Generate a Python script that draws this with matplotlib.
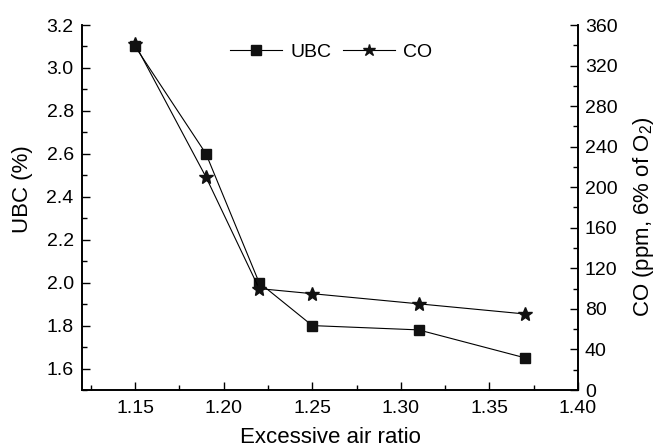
import matplotlib
matplotlib.use("Agg")
import matplotlib.pyplot as plt
from matplotlib.ticker import MultipleLocator, FormatStrFormatter

plt.rcParams['font.family'] = ['Liberation Sans', 'DejaVu Sans']
plt.rcParams['font.size'] = 14
plt.rcParams['mathtext.fontset'] = 'custom'
plt.rcParams['mathtext.rm'] = 'Liberation Sans'

# data
air_ratio = [1.15, 1.19, 1.22, 1.25, 1.31, 1.37]
ubc = [3.10, 2.60, 2.00, 1.80, 1.78, 1.65]
co = [341, 210, 100, 95, 85, 75]

fig = plt.figure(figsize=(6.54, 4.48), dpi=100)
ax1 = fig.add_axes([82/654, 1 - 390/448, (578-82)/654, (390-25)/448])
ax2 = ax1.twinx()

l1, = ax1.plot(air_ratio, ubc, color='black', lw=0.8, marker='s', ms=7.5,
               markerfacecolor='#111111', markeredgecolor='#111111', label='UBC')
l2, = ax2.plot(air_ratio, co, color='black', lw=0.8, marker='*', ms=10,
               markerfacecolor='#111111', markeredgecolor='#111111', label='CO')

ax1.set_xlim(1.12, 1.40)
ax1.set_ylim(1.5, 3.2)
ax2.set_ylim(0, 360)

ax1.xaxis.set_major_locator(MultipleLocator(0.05))
ax1.xaxis.set_minor_locator(MultipleLocator(0.025))
ax1.set_yticks([1.6, 1.8, 2.0, 2.2, 2.4, 2.6, 2.8, 3.0, 3.2])
ax1.yaxis.set_minor_locator(MultipleLocator(0.1))
ax2.yaxis.set_major_locator(MultipleLocator(40))
ax2.yaxis.set_minor_locator(MultipleLocator(20))
ax1.xaxis.set_major_formatter(FormatStrFormatter('%.2f'))
ax1.yaxis.set_major_formatter(FormatStrFormatter('%.1f'))

for ax in (ax1, ax2):
    ax.spines['top'].set_visible(False)
    for s in ax.spines.values():
        s.set_linewidth(1.2)
    ax.tick_params(which='major', direction='in', length=6, width=1.0, labelsize=14)
    ax.tick_params(which='minor', direction='in', length=3.5, width=1.0)
ax1.tick_params(axis='y', which='both', right=False, pad=6)
ax2.tick_params(axis='y', which='both', pad=5)
ax1.tick_params(axis='x', which='both', top=False, pad=7)
ax2.tick_params(axis='x', which='both', top=False)

ax1.set_xlabel('Excessive air ratio', fontsize=16)
ax1.set_ylabel('UBC (%)', fontsize=16)
ax2.set_ylabel('CO (ppm, 6% of O$_2$)', fontsize=16)
ax1.xaxis.set_label_coords(0.5, (390 - 437) / 365, transform=ax1.transAxes)
ax1.xaxis.label.set_va('center')
ax1.yaxis.set_label_coords((23 - 82) / 496, (390 - 189) / 365, transform=ax1.transAxes)
ax1.yaxis.label.set_va('center')
ax2.yaxis.set_label_coords((643 - 82) / 496, (390 - 217) / 365, transform=ax1.transAxes)
ax2.yaxis.label.set_va('center')

ax1.legend([l1, l2], ['UBC', 'CO'], loc='center', ncol=2, frameon=False,
           bbox_to_anchor=((331 - 82) / 496, (390 - 52) / 365), handlelength=2.7,
           columnspacing=0.6, handletextpad=0.4, fontsize=14, markerscale=0.9)

fig.savefig('out.png', dpi=100)
